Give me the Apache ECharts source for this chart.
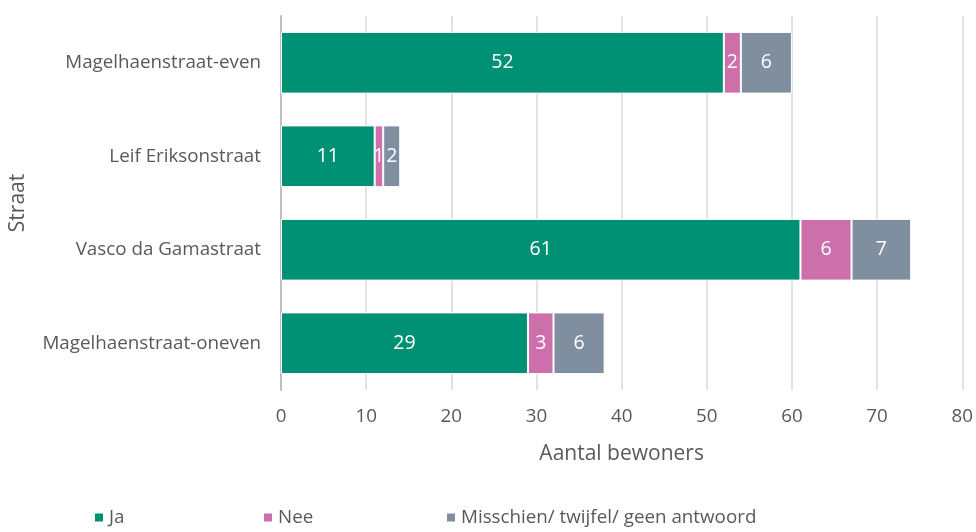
<!DOCTYPE html>
<html><head><meta charset="utf-8">
<script src="https://cdn.jsdelivr.net/npm/echarts@6/dist/echarts.min.js"></script>
<style>html,body{margin:0;padding:0;background:#fff}#c{width:976px;height:532px}</style>
</head><body><div id="c"></div>
<script>
const categories = ['Magelhaenstraat-oneven','Vasco da Gamastraat','Leif Eriksonstraat','Magelhaenstraat-even'];
const ja = [29, 61, 11, 52];
const nee = [3, 6, 1, 2];
const misschien = [6, 7, 2, 6];
const seriesNames = ['Ja','Nee','Misschien/ twijfel/ geen antwoord'];
const colors = ['#009174','#cd6fab','#7f8fa0'];
const font = 'Open Sans';
const chart = echarts.init(document.getElementById('c'));
function mk(name, data, color){
  return {name, type:'bar', stack:'s', data, barCategoryGap:'34%',
    itemStyle:{color, borderColor:'#ffffff', borderWidth:1},
    label:{show:true, position:'inside', color:'#fff', fontFamily:font, fontSize:19.5},
    emphasis:{disabled:true}};
}
const legendBase = {bottom:0, itemWidth:10, itemHeight:10, itemGap:4, icon:'rect', textStyle:{color:'#595959', fontFamily:font, fontSize:18.8}};
chart.setOption({
  animation:false,
  grid:{left:281, right:13, top:16, bottom:142},
  legend:[
    Object.assign({left:88, data:[seriesNames[0]]}, legendBase),
    Object.assign({left:257, data:[seriesNames[1]]}, legendBase),
    Object.assign({left:440, data:[seriesNames[2]]}, legendBase)
  ],
  xAxis:{type:'value', min:0, max:80, interval:10,
    name:'Aantal bewoners', nameLocation:'middle', nameGap:54,
    nameTextStyle:{color:'#595959', fontFamily:font, fontSize:21},
    axisLabel:{color:'#595959', fontFamily:font, fontSize:18.8, margin:17},
    splitLine:{lineStyle:{color:'#d9d9d9', width:1.5}},
    axisLine:{show:false}, axisTick:{show:false}},
  yAxis:{type:'category', data:categories,
    name:'Straat', nameLocation:'middle', nameGap:252, nameRotate:90,
    nameTextStyle:{color:'#595959', fontFamily:font, fontSize:21},
    axisLabel:{color:'#595959', fontFamily:font, fontSize:18.8, margin:20},
    axisLine:{lineStyle:{color:'#bfbfbf', width:2}}, axisTick:{show:false}},
  series:[mk(seriesNames[0], ja, colors[0]), mk(seriesNames[1], nee, colors[1]), mk(seriesNames[2], misschien, colors[2])]
});
</script></body></html>
